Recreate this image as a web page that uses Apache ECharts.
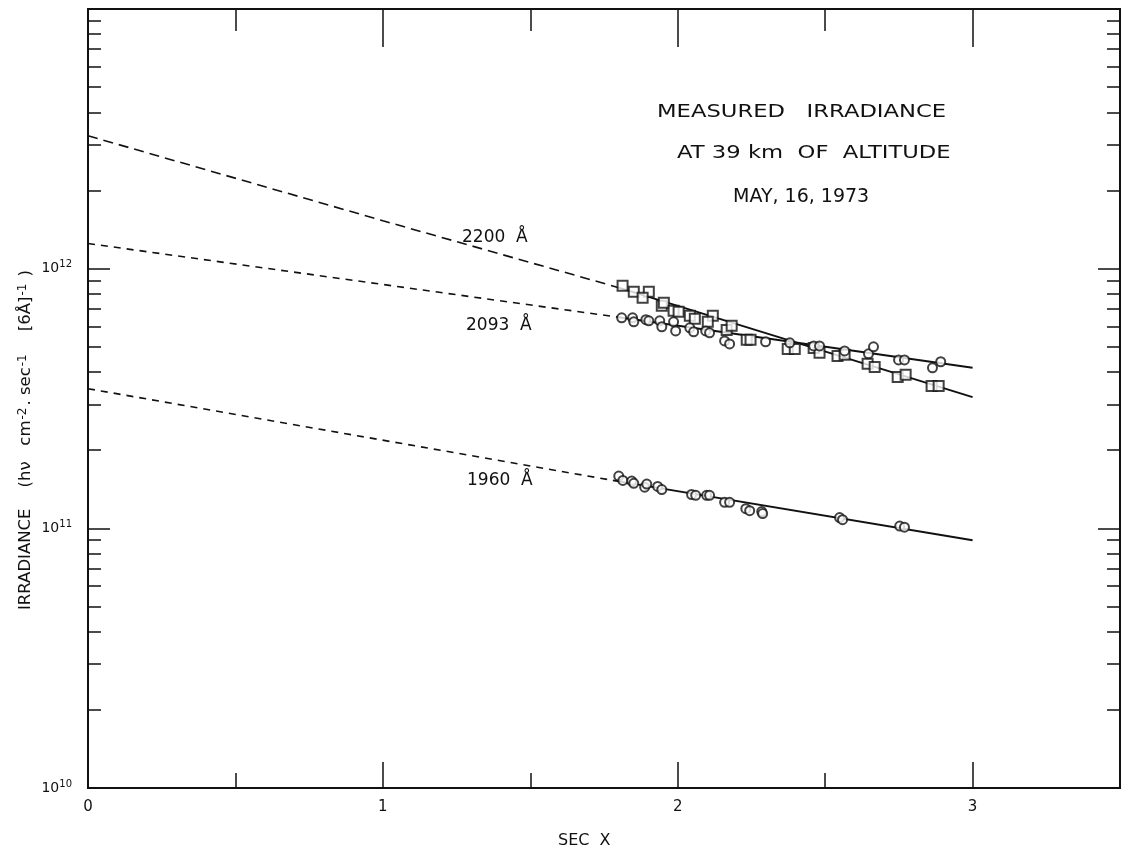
<!DOCTYPE html>
<html>
<head>
<meta charset="utf-8">
<script src="https://cdn.jsdelivr.net/npm/echarts@6/dist/echarts.min.js"></script>
<style>
  html, body { margin: 0; padding: 0; background: #fff; }
  #chart { width: 1127px; height: 853px; }
</style>
</head>
<body>
<div id="chart"></div>
<script>
// measured irradiance at 39 km, 16 May 1973

// open squares, 2200 A
const pts2200 = [
  [1.813, 8.6e11], [1.851, 8.15e11], [1.902, 8.15e11], [1.881, 7.73e11], [1.946, 7.2e11],
  [1.953, 7.39e11], [1.986, 6.88e11], [2.003, 6.82e11], [2.041, 6.59e11], [2.058, 6.41e11],
  [2.119, 6.59e11], [2.102, 6.24e11], [2.166, 5.81e11], [2.183, 6.03e11], [2.234, 5.32e11],
  [2.247, 5.32e11], [2.373, 4.91e11], [2.397, 4.91e11], [2.461, 4.95e11], [2.481, 4.74e11],
  [2.542, 4.61e11], [2.566, 4.66e11], [2.644, 4.30e11], [2.668, 4.18e11], [2.746, 3.83e11],
  [2.773, 3.90e11], [2.861, 3.53e11], [2.885, 3.53e11]
]
// open circles, 2093 A
const pts2093 = [
  [1.810, 6.47e11], [1.847, 6.47e11], [1.851, 6.24e11], [1.892, 6.36e11], [1.902, 6.30e11],
  [1.939, 6.30e11], [1.946, 5.97e11], [1.986, 6.24e11], [1.993, 5.76e11], [2.041, 5.92e11],
  [2.054, 5.71e11], [2.095, 5.76e11], [2.108, 5.66e11], [2.159, 5.27e11], [2.176, 5.13e11],
  [2.298, 5.23e11], [2.380, 5.18e11], [2.461, 5.04e11], [2.481, 5.04e11], [2.566, 4.82e11],
  [2.647, 4.70e11], [2.664, 5.00e11], [2.749, 4.45e11], [2.769, 4.45e11], [2.864, 4.15e11],
  [2.892, 4.38e11]
]
// open circles, 1960 A
const pts1960 = [
  [1.800, 1.59e11], [1.814, 1.53e11], [1.844, 1.52e11], [1.851, 1.49e11], [1.888, 1.44e11],
  [1.895, 1.48e11], [1.932, 1.45e11], [1.946, 1.41e11], [2.047, 1.35e11], [2.061, 1.34e11],
  [2.098, 1.34e11], [2.108, 1.34e11], [2.159, 1.26e11], [2.176, 1.26e11], [2.231, 1.19e11],
  [2.244, 1.17e11], [2.285, 1.16e11], [2.288, 1.14e11], [2.549, 1.10e11], [2.559, 1.08e11],
  [2.753, 1.02e11], [2.769, 1.01e11]
]

// fitted lines (solid) and extrapolations to sec X = 0 (dashed)
const fit2200 = [[1.8, 8.45e11], [3.0, 3.2e11]]
const ext2200 = [[0, 3.25e12], [1.0, 1.53e12], [1.8, 8.45e11]]
const fit2093 = [[1.8, 6.5e11], [3.0, 4.15e11]]
const ext2093 = [[0, 1.25e12], [1.8, 6.5e11]]
const fit1960 = [[1.78, 1.53e11], [3.0, 9.0e10]]
const ext1960 = [[0, 3.45e11], [1.78, 1.53e11]]

// axis ticks
const xLabels = [0, 1, 2, 3]
const xHalfTicks = [0.5, 1.5, 2.5]
const xIntTicks = [1, 2, 3]
const yDecades = [1e11, 1e12]
const yLabelVals = [1e10, 1e11, 1e12]
const yMinor = []
for (const d of [1e10, 1e11, 1e12]) {
  for (let k = 2; k <= 9; k++) yMinor.push(k * d)
}

const INK = '#111'
const FONT = 'DejaVu Sans'

function xAxisDef(position, ticks, len, showLabels) {
  return {
    type: 'value', min: 0, max: 3.5, interval: 0.5, position: position,
    axisLine: { show: true, onZero: false, lineStyle: { color: INK, width: 2 } },
    axisTick: { show: true, inside: true, length: len, customValues: ticks, lineStyle: { color: INK, width: 1.5 } },
    axisLabel: showLabels ? {
      show: true, customValues: xLabels, margin: 12, color: INK, fontFamily: FONT, fontSize: 15
    } : { show: false },
    splitLine: { show: false }
  }
}

function yAxisDef(position, ticks, len, showLabels) {
  return {
    type: 'log', logBase: 10, min: 1e10, max: 1e13, position: position,
    axisLine: { show: true, onZero: false, lineStyle: { color: INK, width: 2 } },
    axisTick: { show: true, inside: true, length: len, customValues: ticks, lineStyle: { color: INK, width: 1.5 } },
    axisLabel: showLabels ? {
      show: true, customValues: yLabelVals, margin: 16,
      formatter: v => '{b|10}{s|' + Math.round(Math.log10(v)) + '}',
      rich: {
        b: { fontFamily: FONT, fontSize: 14, color: INK },
        s: { fontFamily: FONT, fontSize: 10, color: INK, verticalAlign: 'top', padding: [0, 0, 8, 0] }
      }
    } : { show: false },
    splitLine: { show: false }
  }
}

function dashed(data, dash) {
  return {
    type: 'line', data: data, showSymbol: false, silent: true, z: 1,
    lineStyle: { color: INK, width: 1.6, type: dash }
  }
}
function solid(data) {
  return {
    type: 'line', data: data, showSymbol: false, silent: true, z: 1,
    lineStyle: { color: INK, width: 2 }
  }
}
function scatter(data, symbol, size) {
  return {
    type: 'scatter', data: data, symbol: symbol, symbolSize: size, z: 3,
    itemStyle: { color: '#fff', borderColor: INK, borderWidth: 2 }
  }
}

function label(text, x, y, size, sx) {
  return {
    type: 'text', x: x, y: y, scaleX: sx || 1,
    style: { text: text, font: size + 'px "DejaVu Sans"', fill: INK, align: 'left', verticalAlign: 'middle' }
  }
}

const chart = echarts.init(document.getElementById('chart'))
chart.setOption({
  animation: false,
  backgroundColor: '#fff',
  grid: { left: 88, right: 7, top: 9, bottom: 65 },
  xAxis: [
    xAxisDef('bottom', xHalfTicks, 15, true),
    xAxisDef('bottom', xIntTicks, 26, false),
    xAxisDef('top', xHalfTicks, 22, false),
    xAxisDef('top', xIntTicks, 38, false)
  ],
  yAxis: [
    yAxisDef('left', yDecades, 22, true),
    yAxisDef('left', yMinor, 13, false),
    yAxisDef('right', yDecades, 22, false),
    yAxisDef('right', yMinor, 13, false)
  ],
  series: [
    dashed(ext2200, [10, 6]),
    solid(fit2200),
    dashed(ext2093, [7, 6]),
    solid(fit2093),
    dashed(ext1960, [7, 6]),
    solid(fit1960),
    scatter(pts2200, 'rect', 10),
    scatter(pts2093, 'circle', 9),
    scatter(pts1960, 'circle', 9)
  ],
  graphic: [
    label('MEASURED   IRRADIANCE', 657, 112, 18, 1.26),
    label('AT 39 km  OF  ALTITUDE', 677, 153, 18, 1.26),
    label('MAY, 16, 1973', 733, 197, 19, 1),
    label('2200  Å', 462, 238, 17, 1),
    label('2093  Å', 466, 326, 17, 1),
    label('1960  Å', 467, 481, 17, 1),
    label('SEC  X', 558, 841, 16, 1),
    {
      type: 'text', x: 26, y: 440, rotation: Math.PI / 2,
      style: {
        text: '{n|IRRADIANCE    (hν   cm}{s|-2}{n|. sec}{s|-1}{n|    [6Å]}{s|-1}{n| )}',
        align: 'center', verticalAlign: 'middle',
        rich: {
          n: { fontFamily: FONT, fontSize: 16.5, fill: INK },
          s: { fontFamily: FONT, fontSize: 12, fill: INK, verticalAlign: 'top', padding: [0, 2, 6, 1] }
        }
      }
    }
  ]
})
</script>
</body>
</html>
